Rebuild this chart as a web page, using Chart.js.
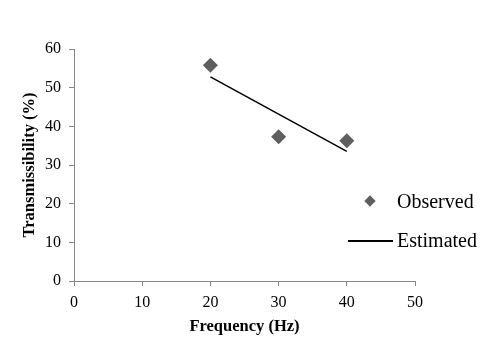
<!DOCTYPE html>
<html>
<head>
<meta charset="utf-8">
<script src="https://cdn.jsdelivr.net/npm/chart.js@4.4.1/dist/chart.umd.min.js"></script>
<style>
  body { margin: 0; background: #fff; }
  #wrap { position: relative; width: 488px; height: 339px; }
  .leg { position: absolute; font-family: "Liberation Serif", serif; font-size: 20px; color: #000; line-height: 20px; }
  .mark { position: absolute; }
</style>
</head>
<body>
<div id="wrap">
  <canvas id="chartTrans" width="488" height="339"></canvas>
  <div class="mark" style="left:366px;top:197px;width:8px;height:8px;background:#5f5f5f;transform:rotate(45deg);"></div>
  <div class="leg" style="left:397px;top:191px;">Observed</div>
  <div class="mark" style="left:348px;top:240px;width:45px;height:1.5px;background:#000;"></div>
  <div class="leg" style="left:397px;top:230px;">Estimated</div>
</div>
<script>
// datos
const frecuencias = [20, 30, 40];
const observados = [55.8, 37.3, 36.3];
const frecEstimada = [20, 40];
const estimados = [52.8, 33.5];
const ticksX = [0, 10, 20, 30, 40, 50];
const ticksY = [0, 10, 20, 30, 40, 50, 60];

const fuenteTick = { family: 'Liberation Serif', size: 16 };
const fuenteTitulo = { family: 'Liberation Serif', size: 16.5, weight: 'bold' };

const ctx = document.getElementById('chartTrans').getContext('2d');
new Chart(ctx, {
    type: 'scatter',
    data: {
        datasets: [{
            label: 'Observed',
            data: frecuencias.map((f, i) => ({ x: f, y: observados[i] })),
            pointStyle: 'rectRot',
            pointRadius: 7.5,
            backgroundColor: '#5f5f5f',
            borderColor: '#5f5f5f',
            borderWidth: 0
        }, {
            label: 'Estimated',
            type: 'line',
            data: frecEstimada.map((f, i) => ({ x: f, y: estimados[i] })),
            borderColor: '#000',
            borderWidth: 1.5,
            pointRadius: 0,
            fill: false
        }]
    },
    options: {
        responsive: false,
        animation: false,
        layout: { padding: { top: 49, right: 73, left: 0, bottom: 0 } },
        plugins: { legend: { display: false }, tooltip: { enabled: false } },
        scales: {
            x: {
                type: 'linear', min: 0, max: 50,
                afterBuildTicks: s => { s.ticks = ticksX.map(v => ({ value: v })); },
                afterFit: s => { s.height = 58; },
                grid: { drawOnChartArea: false, drawTicks: true, tickLength: 5, color: '#868686' },
                border: { color: '#868686' },
                ticks: { font: fuenteTick, color: '#000', padding: 7, maxRotation: 0 },
                title: { display: true, text: 'Frequency (Hz)', font: fuenteTitulo, color: '#000', padding: { top: 0, bottom: 2 } }
            },
            y: {
                min: 0, max: 60,
                afterBuildTicks: s => { s.ticks = ticksY.map(v => ({ value: v })); },
                afterFit: s => { s.width = 74; },
                grid: { drawOnChartArea: false, drawTicks: true, tickLength: 5, color: '#868686' },
                border: { color: '#868686' },
                ticks: { font: fuenteTick, color: '#000', padding: 8 },
                title: { display: true, text: 'Transmissibility (%)', font: fuenteTitulo, color: '#000', padding: { top: 20, bottom: 0 } }
            }
        }
    }
});
</script>
</body>
</html>
